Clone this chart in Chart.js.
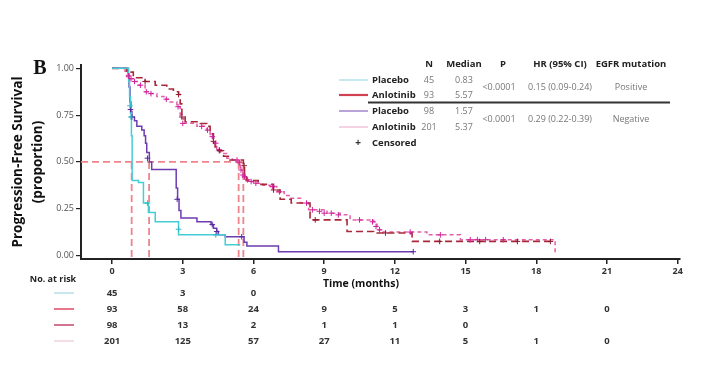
<!DOCTYPE html>
<html>
<head>
<meta charset="utf-8">
<script src="https://cdn.jsdelivr.net/npm/chart.js@4.4.1/dist/chart.umd.min.js"></script>
<style>
html,body{margin:0;padding:0;background:#fff;}
canvas{display:block;}
</style>
</head>
<body>
<canvas id="c" width="706" height="370"></canvas>
<script>
// ---------- data ----------
const timeTicks = [0, 3, 6, 9, 12, 15, 18, 21, 24];
const survTicks = [0, 0.25, 0.5, 0.75, 1];
const xMin = -1.32, xMax = 24.1, yMin = -0.019, yMax = 1.018;

const groupNames = ['Placebo', 'Anlotinib', 'Placebo', 'Anlotinib'];
const nPatients = ['45', '93', '98', '201'];
const medianText = ['0.83', '5.57', '1.57', '5.37'];
const medians = [0.83, 5.57, 1.57, 5.37];
const pValues = ['<0.0001', '<0.0001'];
const hrText = ['0.15 (0.09-0.24)', '0.29 (0.22-0.39)'];
const egfrText = ['Positive', 'Negative'];
const tableHeaders = ['N', 'Median', 'P', 'HR (95% CI)', 'EGFR mutation'];
const atRisk = [
  [45, 3, 0],
  [93, 58, 24, 9, 5, 3, 1, 0],
  [98, 13, 2, 1, 1, 0],
  [201, 125, 57, 27, 11, 5, 1, 0]
];

// Placebo, EGFR positive
const placeboPosT = [0, 0.70, 0.74, 0.78, 0.82, 0.85, 1.12, 1.33, 1.54, 1.83, 2.82, 4.80, 5.44];
const placeboPosS = [1, 0.93, 0.85, 0.76, 0.64, 0.40, 0.39, 0.28, 0.23, 0.18, 0.11, 0.057, 0.057];
// Anlotinib, EGFR positive
const anloPosT = [0, 0.62, 0.90, 1.40, 1.83, 2.32, 2.60, 2.82, 2.89, 2.96, 3.10, 3.74, 4.02, 4.16, 4.30, 4.37, 4.50, 4.73, 5.00, 5.57, 5.62, 5.70, 6.20, 6.85, 7.13, 7.60, 8.40, 9.97, 11.10, 12.73, 18.60];
const anloPosS = [1, 0.98, 0.95, 0.93, 0.91, 0.89, 0.875, 0.86, 0.81, 0.74, 0.715, 0.705, 0.69, 0.65, 0.61, 0.58, 0.56, 0.53, 0.51, 0.48, 0.44, 0.40, 0.38, 0.35, 0.30, 0.28, 0.19, 0.128, 0.12, 0.075, 0.075];
// Placebo, EGFR negative
const placeboNegT = [0, 0.68, 0.72, 0.76, 0.80, 0.84, 0.95, 1.05, 1.26, 1.36, 1.42, 1.47, 1.58, 1.68, 2.72, 2.78, 2.84, 2.92, 3.60, 4.20, 4.30, 4.44, 4.51, 4.80, 5.60, 5.72, 7.06, 12.78];
const placeboNegS = [1, 0.97, 0.90, 0.82, 0.77, 0.74, 0.72, 0.69, 0.67, 0.64, 0.60, 0.55, 0.50, 0.46, 0.36, 0.30, 0.24, 0.20, 0.18, 0.165, 0.146, 0.128, 0.11, 0.10, 0.07, 0.05, 0.02, 0.02];
// Anlotinib, EGFR negative
const anloNegT = [0, 0.55, 0.62, 0.75, 0.90, 1.10, 1.40, 1.60, 1.90, 2.20, 2.46, 2.75, 2.89, 3.03, 3.60, 4.02, 4.16, 4.30, 4.44, 4.60, 4.87, 5.10, 5.37, 5.44, 5.55, 5.65, 5.80, 6.00, 6.40, 6.71, 6.99, 7.30, 7.56, 8.00, 8.34, 9.12, 9.68, 10.10, 11.10, 11.24, 11.30, 11.45, 13.36, 14.78, 18.80];
const anloNegS = [1, 0.985, 0.955, 0.945, 0.93, 0.91, 0.875, 0.865, 0.85, 0.835, 0.82, 0.795, 0.733, 0.706, 0.69, 0.67, 0.635, 0.60, 0.565, 0.545, 0.52, 0.51, 0.495, 0.457, 0.43, 0.404, 0.395, 0.386, 0.375, 0.368, 0.34, 0.32, 0.306, 0.28, 0.244, 0.226, 0.217, 0.19, 0.18, 0.155, 0.137, 0.125, 0.11, 0.084, 0.015];

// censored observations
const censPlaceboPosT = [0.76, 0.80, 1.50, 2.82, 4.40];
const censPlaceboPosS = [0.80, 0.74, 0.28, 0.14, 0.11];
const censPlaceboNegT = [0.78, 0.84, 1.50, 2.76, 4.25, 4.44, 5.50, 12.78];
const censPlaceboNegS = [0.78, 0.74, 0.52, 0.30, 0.165, 0.128, 0.10, 0.02];
const censAnloPosT = [1.40, 2.82, 2.96, 4.30, 4.55, 5.60, 6.85, 8.62, 11.6, 13.9, 15.6, 17.2, 18.6];
const censAnloPosS = [0.93, 0.86, 0.74, 0.61, 0.56, 0.48, 0.35, 0.19, 0.12, 0.075, 0.075, 0.075, 0.075];
const censAnloNegT = [0.70, 0.80, 0.95, 1.20, 1.45, 1.65, 2.30, 2.80, 3.00, 3.80, 4.05, 4.25, 4.40, 4.55, 5.30, 5.40, 5.47, 5.55, 5.62, 5.75, 5.90, 6.10, 6.80, 7.10, 8.25, 8.50, 8.80, 9.00, 9.30, 9.60, 10.50, 11.05, 11.20, 11.35, 12.65, 13.93, 15.20, 15.50, 15.85, 16.60];
const censAnloNegS = [0.96, 0.945, 0.93, 0.91, 0.875, 0.865, 0.835, 0.795, 0.706, 0.69, 0.67, 0.635, 0.60, 0.565, 0.51, 0.495, 0.457, 0.43, 0.42, 0.404, 0.395, 0.386, 0.368, 0.34, 0.28, 0.244, 0.236, 0.226, 0.226, 0.217, 0.19, 0.18, 0.155, 0.137, 0.125, 0.11, 0.084, 0.084, 0.084, 0.084];

// ---------- build ----------
const pts = (T, S) => T.map((t, i) => ({x: t, y: S[i]}));
const FONT = '"Open Sans", "Noto Sans", sans-serif';

const COL = {
  placeboPos: '#45cdd6',
  anloPos: '#a8283a',
  placeboNeg: '#6e3cb0',
  anloNeg: '#e460a8',
  anloNegCens: '#d0209a',
  median: '#ee848c'
};

const curve = (T, S, color, dash, width) => ({
  data: pts(T, S), showLine: true, stepped: true, borderColor: color, backgroundColor: color,
  borderWidth: width, borderDash: dash, pointRadius: 0, pointHoverRadius: 0, fill: false
});
const cens = (T, S, color) => ({
  data: pts(T, S), showLine: false, pointStyle: 'cross', pointRadius: 2.8,
  pointBorderColor: color, pointBorderWidth: 1, borderColor: color, backgroundColor: color
});
const refLine = (a, b) => ({
  data: [a, b], showLine: true, borderColor: COL.median, borderWidth: 1.8,
  borderDash: [7, 4], pointRadius: 0
});

const datasets = [
  cens(censPlaceboPosT, censPlaceboPosS, '#2fb8c4'),
  cens(censPlaceboNegT, censPlaceboNegS, '#5a2aa0'),
  cens(censAnloPosT, censAnloPosS, '#8c1c30'),
  cens(censAnloNegT, censAnloNegS, COL.anloNegCens),
  curve(placeboPosT, placeboPosS, COL.placeboPos, [], 1.5),
  curve(placeboNegT, placeboNegS, COL.placeboNeg, [], 1.5),
  curve(anloPosT, anloPosS, COL.anloPos, [7, 4], 1.6),
  curve(anloNegT, anloNegS, COL.anloNeg, [4, 3], 1.5),
  refLine({x: xMin, y: 0.5}, {x: Math.max(...medians), y: 0.5}),
  ...medians.map(m => refLine({x: m, y: 0.5}, {x: m, y: yMin}))
];

const legendColors = ['#a6e0e8', '#d04050', '#9472c4', '#f2bcd2'];
const riskColors = ['#b8dce6', '#e04860', '#c04868', '#f2d2de'];

const textPlugin = {
  id: 'texts',
  afterDraw(chart) {
    const ctx = chart.ctx, xs = chart.scales.x;
    ctx.save();
    ctx.textBaseline = 'middle';
    // panel letter
    ctx.fillStyle = '#111';
    ctx.textAlign = 'center';
    ctx.font = 'bold 20px "Liberation Serif", serif';
    ctx.fillText('B', 40, 69);
    // y title
    ctx.save();
    ctx.translate(18, 162);
    ctx.rotate(-Math.PI / 2);
    ctx.font = 'bold 13.5px ' + FONT;
    ctx.fillStyle = '#111';
    ctx.fillText('Progression-Free Survival', 0, 0);
    ctx.fillText('(proportion)', 0, 20);
    ctx.restore();
    // x title
    ctx.font = 'bold 10.5px ' + FONT;
    ctx.fillStyle = '#111';
    ctx.fillText('Time (months)', 361, 284);

    // at-risk table
    ctx.font = 'bold 9px ' + FONT;
    ctx.fillStyle = '#222';
    ctx.fillText('No. at risk', 53, 279);
    const rowY = [293, 309, 325, 341];
    atRisk.forEach((row, r) => {
      ctx.strokeStyle = riskColors[r];
      ctx.lineWidth = 1.5;
      ctx.beginPath(); ctx.moveTo(54, rowY[r]); ctx.lineTo(74, rowY[r]); ctx.stroke();
      ctx.fillStyle = '#333';
      ctx.font = 'bold 9.5px ' + FONT;
      row.forEach((v, i) => {
        ctx.fillText(String(v), xs.getPixelForValue(timeTicks[i]), rowY[r]);
      });
    });

    // legend table
    const hx = [429, 464, 503, 560, 631];
    ctx.font = 'bold 9.5px ' + FONT;
    ctx.fillStyle = '#222';
    tableHeaders.forEach((h, i) => ctx.fillText(h, hx[i], 64));
    const ly = [80, 95, 111, 127];
    groupNames.forEach((g, i) => {
      ctx.strokeStyle = legendColors[i];
      ctx.lineWidth = i === 1 ? 2.2 : 1.3;
      ctx.beginPath(); ctx.moveTo(339, ly[i]); ctx.lineTo(368, ly[i]); ctx.stroke();
      ctx.textAlign = 'left';
      ctx.fillStyle = '#222';
      ctx.font = 'bold 9.5px ' + FONT;
      ctx.fillText(g, 372, ly[i]);
      ctx.textAlign = 'center';
      ctx.fillStyle = '#777';
      ctx.font = '9px ' + FONT;
      ctx.fillText(nPatients[i], 429, ly[i]);
      ctx.fillText(medianText[i], 464, ly[i]);
    });
    const gy = [87.5, 119];
    pValues.forEach((p, i) => {
      ctx.fillStyle = '#777';
      ctx.font = '9px ' + FONT;
      ctx.fillText(p, 499, gy[i]);
      ctx.fillText(hrText[i], 560, gy[i]);
      ctx.fillText(egfrText[i], 631, gy[i]);
    });
    // separator
    ctx.strokeStyle = '#333';
    ctx.lineWidth = 2;
    ctx.beginPath(); ctx.moveTo(368, 102.5); ctx.lineTo(670, 102.5); ctx.stroke();
    // censored
    ctx.textAlign = 'center';
    ctx.fillStyle = '#333';
    ctx.font = 'bold 10px ' + FONT;
    ctx.fillText('+', 358, 143);
    ctx.textAlign = 'left';
    ctx.font = 'bold 9.5px ' + FONT;
    ctx.fillStyle = '#222';
    ctx.fillText('Censored', 372, 143);
    ctx.restore();
  }
};

new Chart(document.getElementById('c'), {
  type: 'scatter',
  data: {datasets},
  options: {
    responsive: false,
    animation: false,
    devicePixelRatio: 1,
    layout: {padding: {left: 0, top: 65, right: 26, bottom: 0}},
    plugins: {legend: {display: false}, tooltip: {enabled: false}},
    scales: {
      x: {
        type: 'linear', min: xMin, max: xMax,
        afterBuildTicks: s => { s.ticks = timeTicks.map(v => ({value: v})); },
        afterFit: s => { s.height = 111; },
        grid: {display: true, drawOnChartArea: false, drawTicks: true, tickLength: 5, color: '#222', lineWidth: 1.5},
        border: {display: true, color: '#222', width: 2},
        ticks: {font: {family: FONT, size: 9, weight: 'bold'}, color: '#333', padding: 2, maxRotation: 0, autoSkip: false}
      },
      y: {
        type: 'linear', min: yMin, max: yMax,
        afterBuildTicks: s => { s.ticks = survTicks.map(v => ({value: v})); },
        afterFit: s => { s.width = 81; },
        grid: {display: true, drawOnChartArea: false, drawTicks: true, tickLength: 5, color: '#222', lineWidth: 1.2},
        border: {display: true, color: '#222', width: 2},
        ticks: {font: {family: FONT, size: 9}, color: '#555', padding: 2, callback: v => Number(v).toFixed(2)}
      }
    }
  },
  plugins: [textPlugin]
});
</script>
</body>
</html>
